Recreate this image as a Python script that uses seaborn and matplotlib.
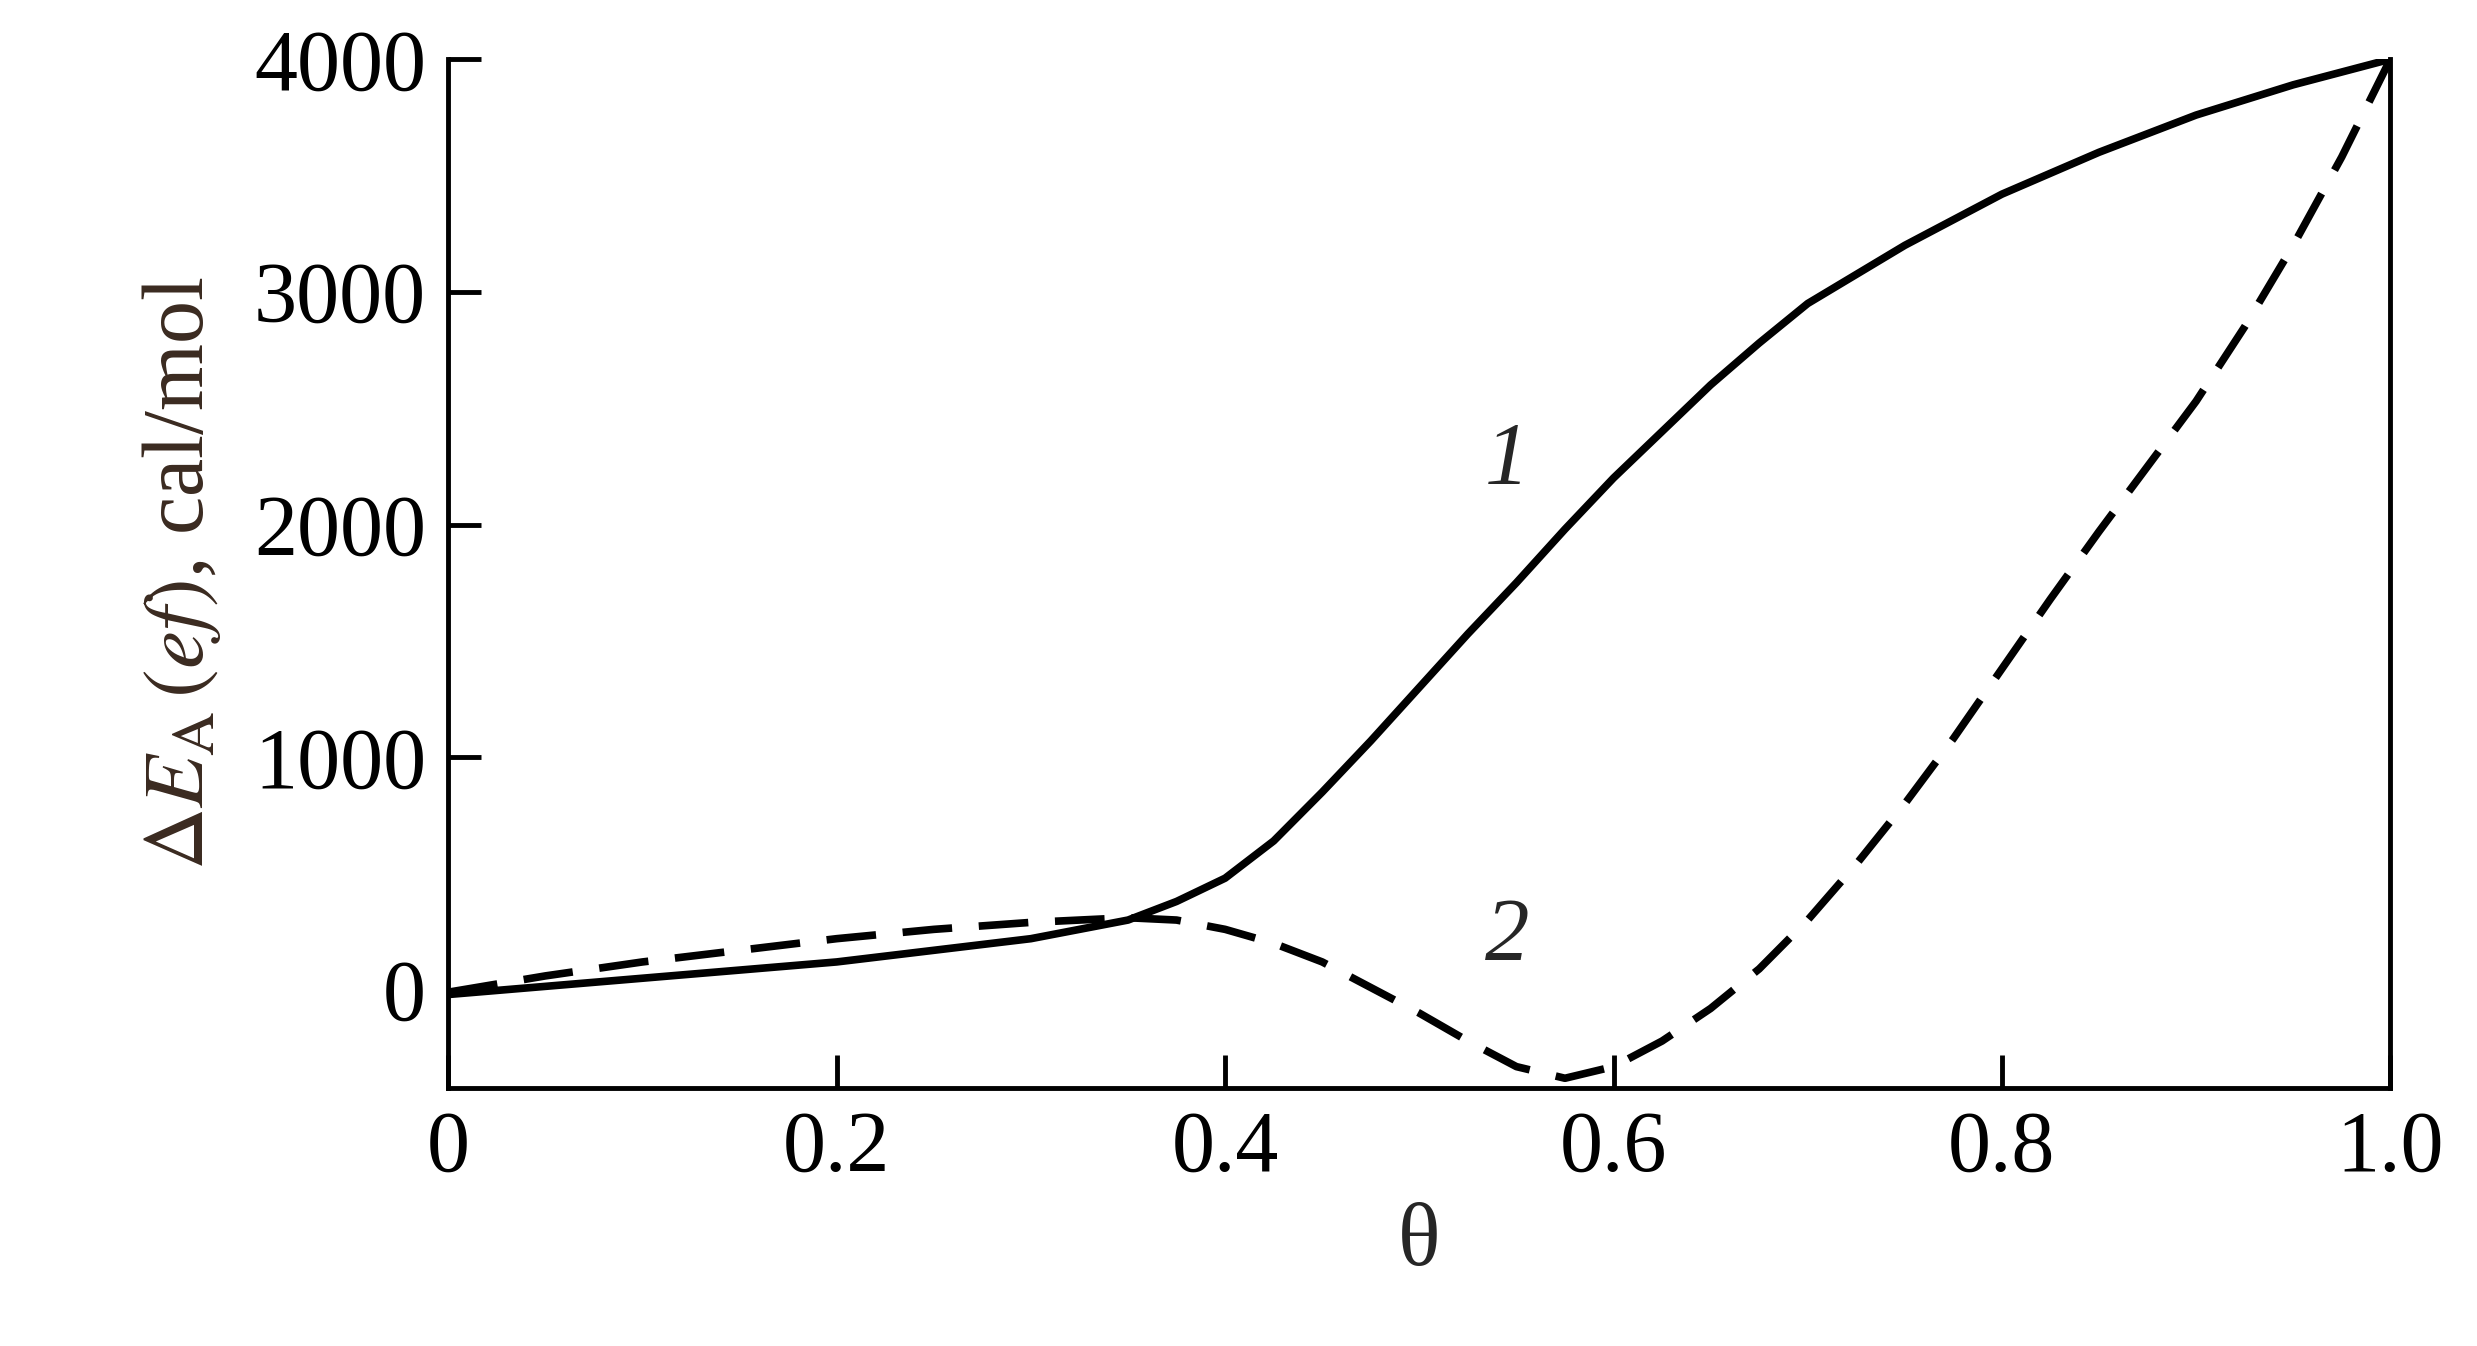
import matplotlib
matplotlib.use("Agg")
import matplotlib.pyplot as plt
import seaborn as sns
import pandas as pd

sns.set_theme(style="white")
plt.rcParams['font.family'] = ['Liberation Serif', 'DejaVu Serif']
plt.rcParams['mathtext.fontset'] = 'stix'

theta = [0, 0.1, 0.2, 0.3, 0.35, 0.375, 0.4, 0.425, 0.45, 0.475, 0.5, 0.525, 0.55, 0.575, 0.6, 0.625,
         0.65, 0.675, 0.7, 0.75, 0.8, 0.85, 0.9, 0.95, 1.0]
curve1 = [-20, 50, 120, 220, 300, 380, 480, 640, 850, 1070, 1300, 1530, 1750, 1980, 2200, 2400,
          2600, 2780, 2950, 3200, 3420, 3600, 3760, 3890, 4000]
theta2 = [0, 0.05, 0.1, 0.15, 0.2, 0.25, 0.3, 0.35, 0.375, 0.4, 0.425, 0.45, 0.475, 0.5, 0.525, 0.55,
          0.575, 0.6, 0.625, 0.65, 0.675, 0.7, 0.725, 0.75, 0.775, 0.8, 0.825, 0.85, 0.875, 0.9,
          0.925, 0.95, 0.975, 1.0]
curve2 = [-10, 60, 120, 170, 220, 260, 290, 310, 300, 260, 200, 120, 10, -100, -220, -330,
          -380, -330, -220, -80, 90, 300, 540, 800, 1080, 1380, 1680, 1970, 2250, 2530,
          2850, 3200, 3580, 4000]

fig = plt.figure(figsize=(24.77, 13.46), dpi=100)
ax = fig.add_axes([0.181, 0.192, 0.784, 0.764])
sns.lineplot(data=pd.DataFrame({"t": theta, "v": curve1}), x="t", y="v", ax=ax, color="black", lw=5.5)
sns.lineplot(data=pd.DataFrame({"t": theta2, "v": curve2}), x="t", y="v", ax=ax, color="black", lw=5.5,
             linestyle=(0, (6.5, 3.5)))
ax.set_xlim(0, 1.0)
ax.set_ylim(-420, 4000)
ax.set_xticks([0, 0.2, 0.4, 0.6, 0.8, 1.0])
ax.set_xticklabels(["0", "0.2", "0.4", "0.6", "0.8", "1.0"])
ax.set_yticks([0, 1000, 2000, 3000, 4000])
ax.tick_params(direction="in", length=24, width=3.5, labelsize=62, pad=16, colors="black")
ax.tick_params(axis='y', left=True, right=False)
ax.tick_params(axis='x', bottom=True)
for s in ["left", "bottom", "right"]:
    ax.spines[s].set_linewidth(3.5)
    ax.spines[s].set_color("black")
ax.spines["top"].set_visible(False)
ax.set_xlabel("θ", fontsize=64, labelpad=10)
ax.set_ylabel(r"$\Delta E_{\mathrm{A}}\,(ef)$, cal/mol", fontsize=62, color="#3a2a20", labelpad=22)
ax.text(0.545, 2270, "1", fontsize=64, style="italic", ha="center", va="center")
ax.text(0.545, 225, "2", fontsize=64, style="italic", ha="center", va="center")
fig.savefig("out.png", dpi=100)
